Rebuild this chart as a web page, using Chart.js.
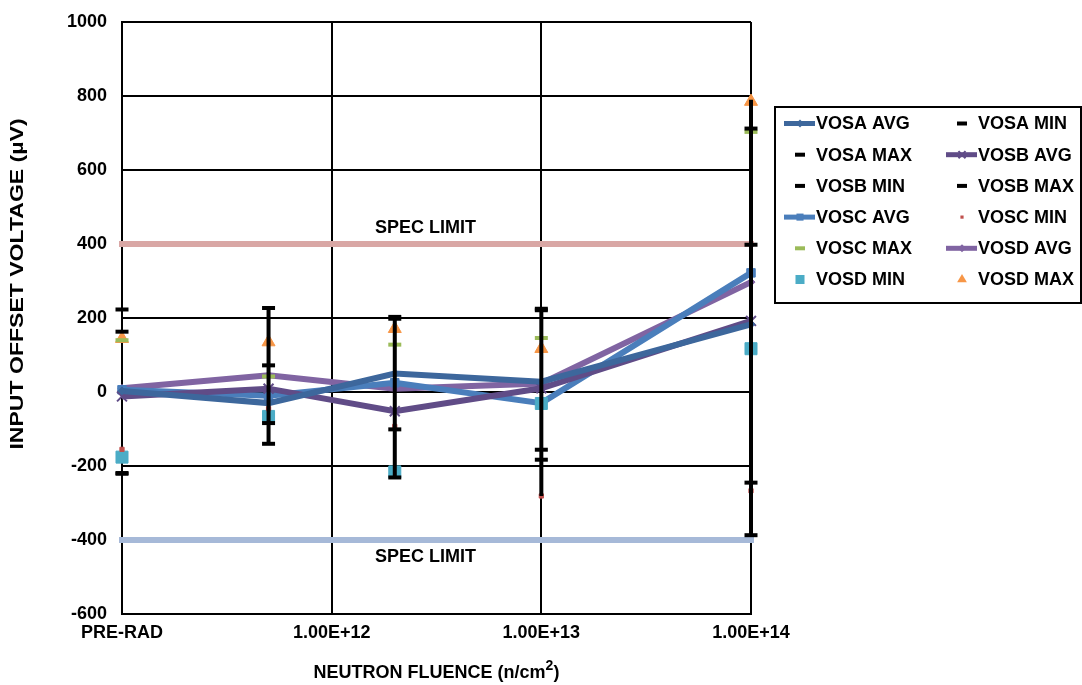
<!DOCTYPE html>
<html>
<head>
<meta charset="utf-8">
<script src="https://cdn.jsdelivr.net/npm/chart.js"></script>
<style>
html,body{margin:0;padding:0;background:#fff;}
#wrap{width:1082px;height:685px;position:relative;}
</style>
</head>
<body>
<div id="wrap"><canvas id="c" width="1082" height="685"></canvas></div>
<script>
// ---- DATA ----
const fluence = [1e11, 5e11, 2e12, 1e13, 1e14];           // PRE-RAD plotted at 1e11
const xTickValues = [1e11, 1e12, 1e13, 1e14];
const xTickLabels = ['PRE-RAD', '1.00E+12', '1.00E+13', '1.00E+14'];
const yMin = -600, yMax = 1000, yStep = 200;

const vosaAvg = [3, -30, 50, 28, 183];
const vosaMin = [-221, -84, -101, -156, -245];
const vosaMax = [163, 72, 203, 225, 712];
const vosbAvg = [-12, 9, -52, 10, 192];
const vosbMin = [-219, -140, -231, -183, -387];
const vosbMax = [223, 227, 198, 221, 398];
const voscAvg = [6, -10, 25, -30, 322];
const voscMin = [-155, -45, -93, -281, -267];
const voscMax = [140, 42, 128, 146, 703];
const vosdAvg = [10, 45, 9, 23, 297];
const vosdMin = [-176, -66, -216, -31, 117];
const vosdMax = [144, 135, 171, 117, 785];

const rangeLow  = [null, -140, -231, -281, -392];
const rangeHigh = [null, 227, 203, 225, 790];

const specLimits = [400, -400];
const specLabel = 'SPEC LIMIT';
const specLabelX = 2.8e12;

const xTitleMain = 'NEUTRON FLUENCE (n/cm';
const xTitleSup = '2';
const xTitleEnd = ')';
const yTitle = 'INPUT OFFSET VOLTAGE (µV)';

// ---- BUILD ----
const FONT = '"Liberation Sans", Arial, sans-serif';
const pts = arr => fluence.map((x, i) => ({x: x, y: arr[i]}));

function avgSeries(label, arr, color, style, radius) {
  return {label, data: pts(arr), showLine: true, borderColor: color, backgroundColor: color,
    borderWidth: 6, pointStyle: style, pointRadius: radius, pointBorderWidth: style === 'crossRot' ? 2 : 1,
    pointBackgroundColor: color, pointBorderColor: color, order: 2, inLegend: true, isAvg: true, clip: false};
}
function markSeries(label, arr, color, style, radius, bw) {
  return {label, data: pts(arr), showLine: false, borderColor: color, backgroundColor: color,
    pointStyle: style, pointRadius: radius, pointBorderWidth: bw, borderWidth: bw,
    pointBackgroundColor: color, pointBorderColor: color, order: 1, inLegend: true, clip: false};
}

const rangeData = [];
fluence.forEach((x, i) => {
  if (rangeLow[i] === null) return;
  rangeData.push({x, y: rangeLow[i]}, {x, y: rangeHigh[i]}, {x, y: null});
});

const datasets = [
  avgSeries('VOSA AVG', vosaAvg, 'rgb(61,103,156)', 'rectRot', 4),
  markSeries('VOSA MIN', vosaMin, '#000', 'line', 6.5, 4),
  markSeries('VOSA MAX', vosaMax, '#000', 'line', 6.5, 4),
  avgSeries('VOSB AVG', vosbAvg, 'rgb(96,76,135)', 'crossRot', 7),
  markSeries('VOSB MIN', vosbMin, '#000', 'line', 6.5, 4),
  markSeries('VOSB MAX', vosbMax, '#000', 'line', 6.5, 4),
  avgSeries('VOSC AVG', voscAvg, 'rgb(74,126,187)', 'rect', 6),
  markSeries('VOSC MIN', voscMin, 'rgb(192,80,77)', 'rect', 3, 1),
  markSeries('VOSC MAX', voscMax, 'rgb(155,187,89)', 'line', 6.5, 4),
  avgSeries('VOSD AVG', vosdAvg, 'rgb(128,100,162)', 'rectRot', 4),
  markSeries('VOSD MIN', vosdMin, 'rgb(75,172,198)', 'rect', 8.5, 1),
  markSeries('VOSD MAX', vosdMax, 'rgb(247,150,70)', 'triangle', 7.5, 1),
  {label: 'range', data: rangeData, showLine: true, spanGaps: false, borderColor: '#000',
    borderWidth: 4, pointRadius: 0, order: 0, clip: false},
  {label: 'spec+', data: [{x: fluence[0], y: specLimits[0]}, {x: fluence[fluence.length-1], y: specLimits[0]}],
    showLine: true, borderColor: 'rgb(217,167,165)', borderWidth: 6, pointRadius: 0, order: 5, borderCapStyle: 'square', clip: false},
  {label: 'spec-', data: [{x: fluence[0], y: specLimits[1]}, {x: fluence[fluence.length-1], y: specLimits[1]}],
    showLine: true, borderColor: 'rgb(166,185,216)', borderWidth: 6, pointRadius: 0, order: 5, borderCapStyle: 'square', clip: false}
];

function drawMarker(ctx, style, r, x, y, color, bw) {
  ctx.save();
  ctx.fillStyle = color; ctx.strokeStyle = color; ctx.lineWidth = bw;
  ctx.beginPath();
  if (style === 'line') {
    ctx.moveTo(x - r, y); ctx.lineTo(x + r, y); ctx.stroke();
  } else if (style === 'rect') {
    const s = Math.SQRT1_2 * r; ctx.fillRect(x - s, y - s, 2 * s, 2 * s);
  } else if (style === 'rectRot') {
    ctx.moveTo(x, y - r); ctx.lineTo(x + r, y); ctx.lineTo(x, y + r); ctx.lineTo(x - r, y); ctx.closePath(); ctx.fill();
  } else if (style === 'crossRot') {
    const d = r * Math.SQRT1_2;
    ctx.moveTo(x - d, y - d); ctx.lineTo(x + d, y + d); ctx.moveTo(x - d, y + d); ctx.lineTo(x + d, y - d); ctx.stroke();
  } else if (style === 'triangle') {
    const w = r * Math.sqrt(3) / 2;
    ctx.moveTo(x, y - r); ctx.lineTo(x + w, y + r / 2); ctx.lineTo(x - w, y + r / 2); ctx.closePath(); ctx.fill();
  }
  ctx.restore();
}

const boxLegend = {
  id: 'boxLegend',
  afterDraw(chart) {
    const ctx = chart.ctx, ca = chart.chartArea;
    const left = ca.right + 24, top = 107, right = 1081, bottom = 303;
    ctx.save();
    ctx.lineWidth = 2; ctx.strokeStyle = '#000';
    ctx.strokeRect(left, top, right - left, bottom - top);
    ctx.font = 'bold 18px ' + FONT;
    ctx.textBaseline = 'middle'; ctx.textAlign = 'left'; ctx.fillStyle = '#000';
    const items = chart.data.datasets.filter(d => d.inLegend);
    items.forEach((ds, i) => {
      const col = i % 2, row = Math.floor(i / 2);
      const sx = left + 9 + col * 162;
      const cy = top + 16.5 + row * 31.2;
      if (ds.isAvg) {
        ctx.save(); ctx.strokeStyle = ds.borderColor; ctx.lineWidth = 5;
        ctx.beginPath(); ctx.moveTo(sx, cy); ctx.lineTo(sx + 31, cy); ctx.stroke(); ctx.restore();
        drawMarker(ctx, ds.pointStyle, Math.min(ds.pointRadius, 5), sx + 16, cy, ds.borderColor, ds.pointBorderWidth);
      } else {
        drawMarker(ctx, ds.pointStyle, ds.pointStyle === 'line' ? 5 : ds.pointRadius * 0.75, sx + 16, cy, ds.borderColor, ds.pointStyle === 'line' ? 4 : 1);
      }
      ctx.fillStyle = '#000';
      ctx.fillText(ds.label, sx + 32, cy + 1);
    });
    ctx.restore();
  }
};

const textPlugin = {
  id: 'textPlugin',
  afterDatasetsDraw(chart) {
    const ctx = chart.ctx, xs = chart.scales.x, ys = chart.scales.y, ca = chart.chartArea;
    ctx.save();
    ctx.font = 'bold 18px ' + FONT; ctx.fillStyle = '#000';
    ctx.textAlign = 'center'; ctx.textBaseline = 'middle';
    const x = xs.getPixelForValue(specLabelX);
    ctx.fillText(specLabel, x, ys.getPixelForValue(specLimits[0]) - 16);
    ctx.fillText(specLabel, x, ys.getPixelForValue(specLimits[1]) + 17);

    // x axis title with superscript
    const cx = (ca.left + ca.right) / 2, ty = 673;
    ctx.textAlign = 'left';
    ctx.font = 'bold 18px ' + FONT;
    const w1 = ctx.measureText(xTitleMain).width;
    ctx.font = 'bold 14px ' + FONT;
    const w2 = ctx.measureText(xTitleSup).width;
    ctx.font = 'bold 18px ' + FONT;
    const w3 = ctx.measureText(xTitleEnd).width;
    let sx = cx - (w1 + w2 + w3) / 2;
    ctx.fillText(xTitleMain, sx, ty);
    ctx.font = 'bold 14px ' + FONT;
    ctx.fillText(xTitleSup, sx + w1, ty - 7);
    ctx.font = 'bold 18px ' + FONT;
    ctx.fillText(xTitleEnd, sx + w1 + w2, ty);

    // y axis title (stretched along its length)
    ctx.save();
    ctx.translate(18, 284);
    ctx.rotate(-Math.PI / 2);
    ctx.scale(1.28, 1);
    ctx.textAlign = 'center';
    ctx.font = 'bold 18px ' + FONT;
    ctx.fillText(yTitle, 0, 0);
    ctx.restore();
    ctx.restore();
  }
};

const tickFont = {family: FONT, size: 18, weight: 'bold'};
new Chart(document.getElementById('c'), {
  type: 'scatter',
  data: {datasets},
  plugins: [textPlugin, boxLegend],
  options: {
    responsive: false, animation: false,
    layout: {padding: {top: 22, right: 331, left: 0, bottom: 0}},
    plugins: {legend: {display: false}, tooltip: {enabled: false}},
    scales: {
      x: {
        type: 'logarithmic', min: xTickValues[0], max: xTickValues[xTickValues.length - 1],
        afterBuildTicks: s => { s.ticks = xTickValues.map(v => ({value: v})); },
        afterFit: s => { s.height = 71; s.paddingLeft = 0; s.paddingRight = 0; },
        ticks: {callback: (v, i) => xTickLabels[i], font: tickFont, color: '#000', padding: 8, maxRotation: 0, autoSkip: false},
        grid: {color: '#000', lineWidth: 2, drawTicks: false},
        border: {color: '#000', width: 2}
      },
      y: {
        min: yMin, max: yMax,
        afterFit: s => { s.width = 122; s.paddingTop = 0; s.paddingBottom = 0; },
        ticks: {stepSize: yStep, font: tickFont, color: '#000', padding: 15, callback: v => String(v)},
        grid: {color: '#000', lineWidth: 2, drawTicks: false},
        border: {color: '#000', width: 2}
      }
    }
  }
});
</script>
</body>
</html>
